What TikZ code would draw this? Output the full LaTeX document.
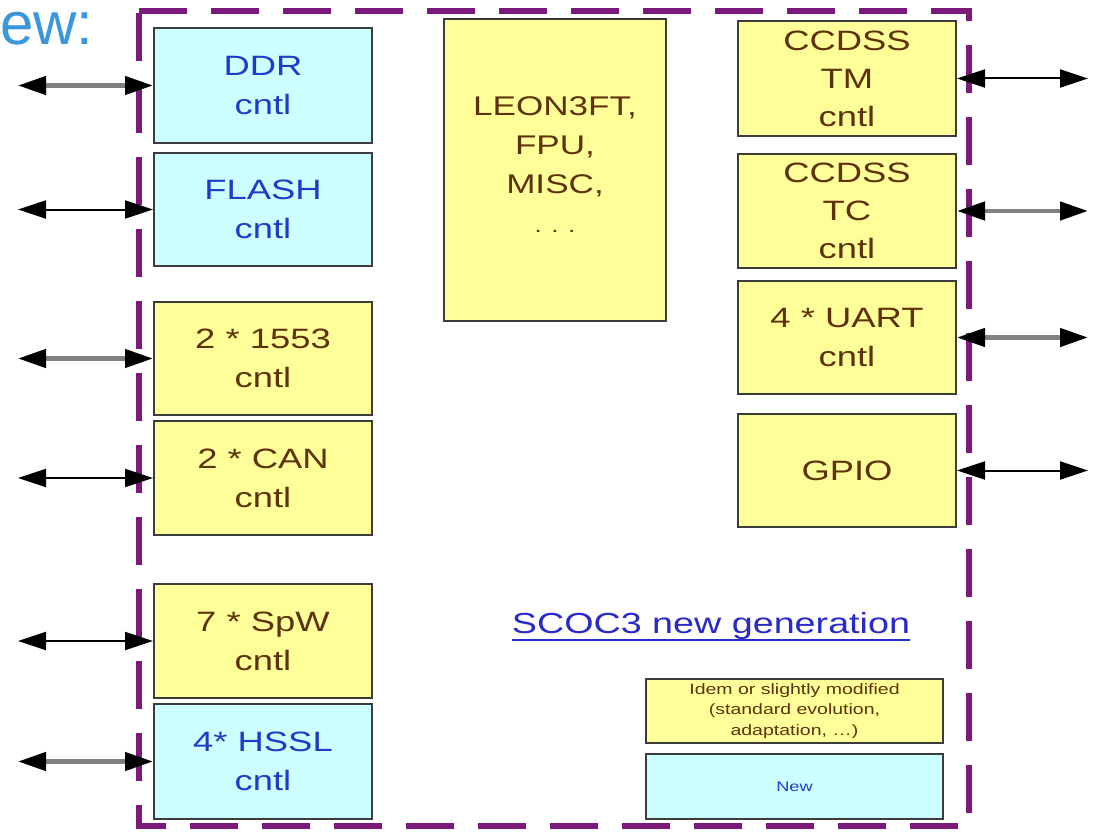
\documentclass[tikz,border=0pt]{standalone}
\usepackage{fontspec}
\setmainfont{Liberation Sans}
\newfontfamily\dfont{Liberation Sans}[FakeStretch=1.3]
\usetikzlibrary{arrows.meta}
\definecolor{cyanfill}{HTML}{CCFFFF}
\definecolor{yelfill}{HTML}{FFFF99}
\definecolor{brn}{HTML}{5E3208}
\definecolor{blu}{HTML}{1E3CC8}
\definecolor{purp}{HTML}{7C1A7C}
\definecolor{ewblue}{HTML}{3A96DD}
\definecolor{bord}{HTML}{3C3C3C}
\definecolor{linkblue}{HTML}{2A2AC8}
\tikzset{
  blk/.style={draw=bord, line width=2pt, inner sep=0pt, align=center, anchor=north west,
    font=\dfont\fontsize{28}{39}\selectfont},
  newbox/.style={blk, fill=cyanfill, text=blu},
  oldbox/.style={blk, fill=yelfill, text=brn},
  grayarr/.style={line width=4.5pt, draw=gray, {Triangle[length=28pt,width=18pt,color=black]}-{Triangle[length=28pt,width=18pt,color=black]}},
  blackarr/.style={line width=2pt, draw=black, {Triangle[length=28pt,width=18pt,color=black]}-{Triangle[length=28pt,width=18pt,color=black]}},
}
\begin{document}
\begin{tikzpicture}[x=1pt,y=-1pt]
\useasboundingbox[fill=white] (0,0) rectangle (1095,832);
% title fragment
\node[anchor=base west, inner sep=0pt, text=ewblue, font=\fontsize{60}{60}\selectfont] (title) at (0,45) {ew:};
% frame
\draw[purp, line width=6pt, dash pattern=on 48pt off 24pt] (139,11) -- (969,11) -- (969,826) -- (139,826) -- cycle;
% left column
\node[newbox, minimum width=218pt, minimum height=115pt] (ddr) at (153,27) {DDR\\cntl};
\node[newbox, minimum width=218pt, minimum height=113pt] (flash) at (153,152) {FLASH\\cntl};
\node[oldbox, minimum width=218pt, minimum height=113pt] (mil) at (153,301) {2 * 1553\\cntl};
\node[oldbox, minimum width=218pt, minimum height=114pt] (can) at (153,420) {2 * CAN\\cntl};
\node[oldbox, minimum width=218pt, minimum height=114pt] (spw) at (153,583) {7 * SpW\\cntl};
\node[newbox, minimum width=218pt, minimum height=115pt] (hssl) at (153,703) {4* HSSL\\cntl};
% center
\node[oldbox, minimum width=222pt, minimum height=302pt, font=\dfont\fontsize{27}{39}\selectfont] (leon) at (443,18) {LEON3FT,\\FPU,\\MISC,\\\fontsize{20}{39}\selectfont . . .\\[-29pt]\mbox{}};
% right column
\node[oldbox, minimum width=218pt, minimum height=115pt, font=\dfont\fontsize{28}{38}\selectfont] (tm) at (737,20) {CCDSS\\TM\\cntl};
\node[oldbox, minimum width=218pt, minimum height=114pt, font=\dfont\fontsize{28}{38}\selectfont] (tc) at (737,153) {CCDSS\\TC\\cntl};
\node[oldbox, minimum width=218pt, minimum height=113pt] (uart) at (737,280) {4 * UART\\cntl};
\node[oldbox, minimum width=218pt, minimum height=113pt] (gpio) at (737,413) {GPIO};
% label
\node[anchor=base, inner sep=0pt, text=linkblue, font=\dfont\fontsize{29}{29}\selectfont] (scoc) at (711,633) {SCOC3 new generation};
\draw[linkblue, line width=1.5pt] ([yshift=-7pt]scoc.base west) -- ([yshift=-7pt]scoc.base east);
% legend
\node[oldbox, minimum width=297pt, minimum height=64pt, font=\dfont\fontsize{15}{20.5}\selectfont] (leg1) at (645,678) {Idem or slightly modified\\(standard evolution,\\adaptation, \dots)};
\node[newbox, minimum width=297pt, minimum height=65pt, font=\dfont\fontsize{14}{20}\selectfont] (leg2) at (645,753) {New};
% connector end points
\coordinate (ddrL) at (18,0 |- ddr.west);
\coordinate (flashL) at (18,0 |- flash.west);
\coordinate (milL) at (18,0 |- mil.west);
\coordinate (canL) at (18,0 |- can.west);
\coordinate (spwL) at (18,0 |- spw.west);
\coordinate (hsslL) at (18,0 |- hssl.west);
\coordinate (tmR) at (1088,0 |- tm.east);
\coordinate (tcR) at (1088,0 |- tc.east);
\coordinate (uartR) at (1088,0 |- uart.east);
\coordinate (gpioR) at (1088,0 |- gpio.east);
% connectors
\draw[grayarr] (ddrL) -- (ddr.west);
\draw[blackarr] (flashL) -- (flash.west);
\draw[grayarr] (milL) -- (mil.west);
\draw[blackarr] (canL) -- (can.west);
\draw[blackarr] (spwL) -- (spw.west);
\draw[grayarr] (hsslL) -- (hssl.west);
\draw[blackarr] (tm.east) -- (tmR);
\draw[grayarr] (tc.east) -- (tcR);
\draw[grayarr] (uart.east) -- (uartR);
\draw[blackarr] (gpio.east) -- (gpioR);
\end{tikzpicture}
\end{document}
